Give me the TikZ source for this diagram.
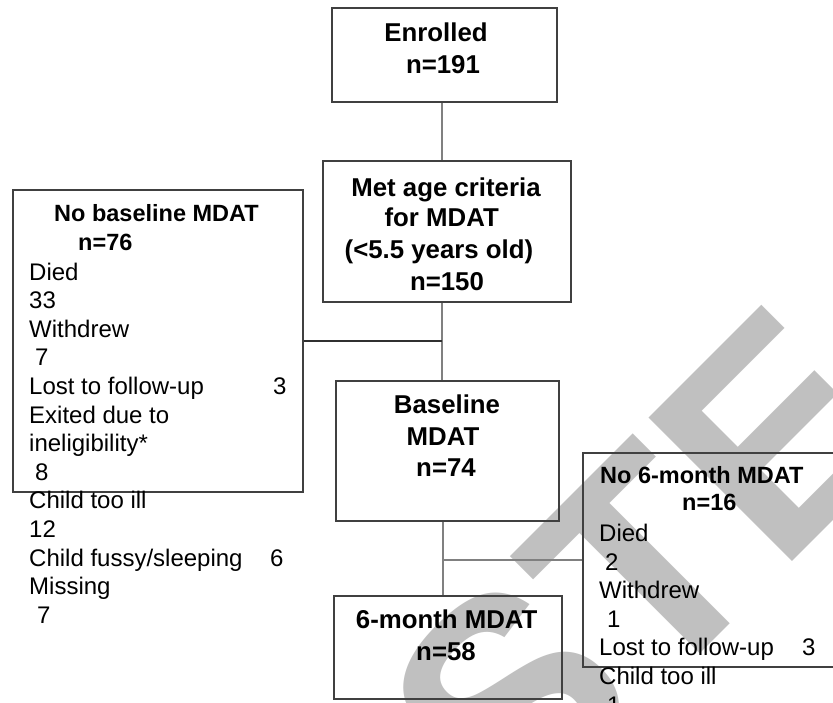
\documentclass[tikz,border=0pt]{standalone}
\usepackage{fontspec}
\setmainfont{Liberation Sans}
\definecolor{wm}{HTML}{C0C0C0}
\definecolor{bord}{HTML}{404040}
\definecolor{conn}{HTML}{808080}
\definecolor{connd}{HTML}{303030}
\begin{document}
\begin{tikzpicture}[x=1pt,y=-1pt,
  box/.style={draw=bord, line width=1.5pt, rectangle, inner sep=0pt},
  hd/.style={font=\fontsize{25.8}{30}\selectfont\bfseries, anchor=base, inner sep=0pt},
  sh/.style={font=\fontsize{23.5}{28}\selectfont\bfseries, anchor=base west, inner sep=0pt},
  tx/.style={font=\fontsize{24}{28.6}\selectfont, anchor=base west, inner sep=0pt},
  ln/.style={draw=conn, line width=1.3pt},
  lnd/.style={draw=connd, line width=1.4pt}]
\useasboundingbox (0,0) rectangle (833,702);
\clip (0,0) rectangle (833,702);
\fill[white] (0,0) rectangle (833,702);
% watermark
\node[rotate=45, anchor=base west, inner sep=0pt, text=wm,
      font=\fontsize{295}{295}\selectfont\bfseries] (wmark) at (512,842) {STE};
% boxes
\node[box, minimum width=225pt, minimum height=94pt] (enr) at (444.5,55) {};
\node[box, minimum width=248pt, minimum height=141pt] (met) at (447,231.5) {};
\node[box, minimum width=290pt, minimum height=302pt] (nob) at (158,341) {};
\node[box, minimum width=223pt, minimum height=140pt] (bas) at (447.5,451) {};
\node[box, minimum width=257pt, minimum height=214pt] (no6) at (711.5,560) {};
\node[box, minimum width=228pt, minimum height=103pt] (six) at (448,647.5) {};
\coordinate (spa) at (442,0);
\coordinate (spb) at (443,0);
% connectors
\draw[ln] (enr.south -| spa) -- (met.north -| spa);
\draw[ln] (met.south -| spa) -- (bas.north -| spa);
\draw[lnd] (nob.east) -- (nob.east -| spa);
\draw[ln] (bas.south -| spb) -- (six.north -| spb);
\draw[ln] (no6.west -| spb) -- (no6.west);
% centred box texts
\node[hd] (t1) at (436,41.7) {Enrolled};
\node[hd] (t2) at (443,73.3) {n=191};
\node[hd] (t3) at (446,196.7) {Met age criteria};
\node[hd] (t4) at (441.7,226.7) {for MDAT};
\node[hd] (t5) at (439,258) {(<5.5 years old)};
\node[hd] (t6) at (447,290) {n=150};
\node[hd] (t7) at (447,413) {Baseline};
\node[hd] (t8) at (443,445.7) {MDAT};
\node[hd] (t9) at (446,476.7) {n=74};
\node[hd] (t10) at (446.7,628) {6-month MDAT};
\node[hd] (t11) at (446,660) {n=58};
% left side list
\node[sh] (l1) at (54,221.7) {No baseline MDAT};
\node[sh] (l2) at (78,250) {n=76};
\node[tx] (l3) at (29,280) {Died};
\node[tx] (l4) at (29,308.6) {33};
\node[tx] (l5) at (29,337.2) {Withdrew};
\node[tx] (l6) at (35,365.8) {7};
\node[tx] (l7) at (29,394.4) {\makebox[244pt][l]{Lost to follow-up}3};
\node[tx] (l8) at (29,423) {Exited due to};
\node[tx] (l9) at (29,451.6) {ineligibility*};
\node[tx] (l10) at (35,480.2) {8};
\node[tx] (l11) at (29,508.8) {Child too ill};
\node[tx] (l12) at (29,537.4) {12};
\node[tx] (l13) at (29,566) {\makebox[241pt][l]{Child fussy/sleeping}6};
\node[tx] (l14) at (29,594.6) {Missing};
\node[tx] (l15) at (37,623.2) {7};
% right side list
\node[sh] (r1) at (600,483) {No 6-month MDAT};
\node[sh] (r2) at (682,510.7) {n=16};
\node[tx] (r3) at (599,541.7) {Died};
\node[tx] (r4) at (605,570.3) {2};
\node[tx] (r5) at (599,598.9) {Withdrew};
\node[tx] (r6) at (607,627.5) {1};
\node[tx] (r7) at (599,655) {\makebox[203pt][l]{Lost to follow-up}3};
\node[tx] (r8) at (599,684.7) {Child too ill};
\node[tx] (r9) at (607,713.3) {1};
\end{tikzpicture}
\end{document}
